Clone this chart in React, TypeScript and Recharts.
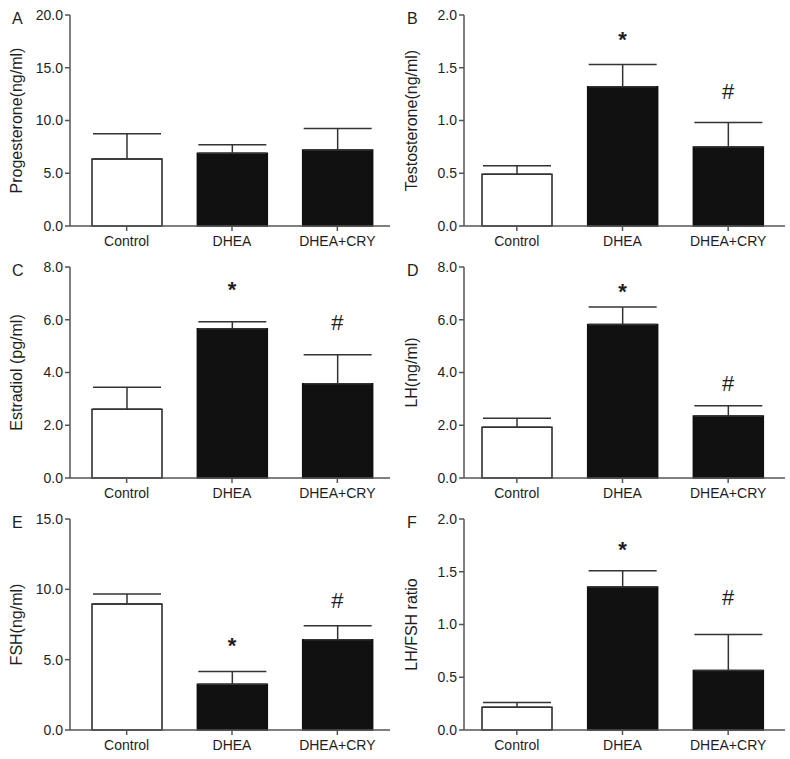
import { Bar, BarChart, Cell, ErrorBar, ReferenceDot, XAxis, YAxis } from "recharts";

const groups = ["Control", "DHEA", "DHEA+CRY"];

const progesterone = [6.35, 6.9, 7.2];
const progesteroneSem = [2.4, 0.8, 2.05];
const testosterone = [0.49, 1.32, 0.75];
const testosteroneSem = [0.08, 0.21, 0.23];
const estradiol = [2.61, 5.66, 3.57];
const estradiolSem = [0.83, 0.26, 1.1];
const lh = [1.92, 5.82, 2.35];
const lhSem = [0.35, 0.66, 0.39];
const fsh = [8.95, 3.25, 6.41];
const fshSem = [0.71, 0.9, 1.01];
const ratio = [0.215, 1.355, 0.563];
const ratioSem = [0.045, 0.155, 0.342];

// significance marks and the height (axis units) where each one sits
const noMarks = ["", "", ""];
const sigMarks = ["", "*", "#"];
const noMarkY = [0, 0, 0];
const testosteroneMarkY = [0, 1.79, 1.28];
const estradiolMarkY = [0, 7.25, 5.93];
const lhMarkY = [0, 7.18, 3.61];
const fshMarkY = [0, 6.19, 9.25];
const ratioMarkY = [0, 1.73, 1.26];

const ticks20 = [0, 5, 10, 15, 20];
const ticks15 = [0, 5, 10, 15];
const ticks8 = [0, 2, 4, 6, 8];
const ticks2 = [0, 0.5, 1, 1.5, 2];

const FONT = "'Liberation Sans', Arial, sans-serif";
const AXIS = "#555";
const INK = "#1e1e1e";

type PanelProps = {
  letter: string;
  label: string;
  values: number[];
  sem: number[];
  marks: string[];
  markY: number[];
  ticks: number[];
  left: number;
  top: number;
  yWidth: number;
  pad: { left: number; right: number };
};

function YLabel(props: any) {
  const vb = props.viewBox || {};
  const cx = (vb.x ?? 0) + 22;
  const cy = (vb.y ?? 15) + (vb.height ?? 211) / 2;
  return (
    <text
      x={cx}
      y={cy}
      transform={`rotate(-90, ${cx}, ${cy})`}
      textAnchor="middle"
      fontSize={16}
      fontFamily={FONT}
      fill={INK}
    >
      {props.value}
    </text>
  );
}

function markLabel(mark: string) {
  return (props: any) => {
    const vb = props.viewBox || {};
    const cx = (vb.x ?? 0) + (vb.width ?? 0) / 2;
    const cy = (vb.y ?? 0) + (vb.height ?? 0) / 2;
    // shift baseline so the glyph is centred on the point
    const shift = mark === "*" ? 10 : 8;
    return (
      <text
        x={cx}
        y={cy + shift}
        textAnchor="middle"
        fontSize={22}
        fontWeight={mark === "*" ? "bold" : "normal"}
        fontFamily={FONT}
        fill={INK}
      >
        {mark}
      </text>
    );
  };
}

function Panel({ letter, label, values, sem, marks, markY, ticks, left, top, yWidth, pad }: PanelProps) {
  const data = groups.map((g, i) => ({
    group: g,
    value: values[i],
    err: [0, sem[i]],
  }));
  const max = ticks[ticks.length - 1];
  return (
    <div style={{ position: "absolute", left, top, width: 395, height: 251 }}>
      <BarChart
        width={395}
        height={251}
        data={data}
        margin={{ top: 15, right: 5, left: 0, bottom: 0 }}
        barSize={70}
      >
        <XAxis
          dataKey="group"
          height={25}
          padding={pad}
          stroke={AXIS}
          strokeWidth={1.5}
          tickSize={5}
          tickMargin={5}
          tick={{ fill: INK, fontSize: 14, fontFamily: FONT }}
        />
        <YAxis
          width={yWidth}
          domain={[0, max]}
          ticks={ticks}
          interval={0}
          stroke={AXIS}
          strokeWidth={1.5}
          tickSize={5}
          tickFormatter={(v: number) => v.toFixed(1)}
          tick={{ fill: INK, fontSize: 14, fontFamily: FONT }}
          label={<YLabel value={label} />}
        />
        <Bar dataKey="value" isAnimationActive={false}>
          {data.map((d, i) => (
            <Cell
              key={d.group}
              fill={i === 0 ? "#fff" : "#111"}
              stroke={i === 0 ? "#222" : "#111"}
              strokeWidth={1.5}
            />
          ))}
          <ErrorBar dataKey="err" width={34} stroke="#333" strokeWidth={1.5} isAnimationActive={false} />
        </Bar>
        {data.map((d, i) =>
          marks[i] ? (
            <ReferenceDot
              key={d.group}
              x={d.group}
              y={markY[i]}
              r={0}
              fill="none"
              stroke="none"
              label={markLabel(marks[i])}
            />
          ) : null
        )}
      </BarChart>
      <div
        style={{
          position: "absolute",
          left: 12,
          top: 11,
          fontFamily: FONT,
          fontSize: 16,
          lineHeight: "16px",
          color: INK,
        }}
      >
        {letter}
      </div>
    </div>
  );
}

const leftPad = { left: 4, right: 0 };
const rightPad = { left: 0, right: 4 };

export default function App() {
  return (
    <div style={{ position: "absolute", left: 0, top: 0, width: 790, height: 759, background: "#fff" }}>
      <Panel letter="A" label="Progesterone(ng/ml)" values={progesterone} sem={progesteroneSem} marks={noMarks} markY={noMarkY} ticks={ticks20} left={0} top={0} yWidth={70} pad={leftPad} />
      <Panel letter="B" label="Testosterone(ng/ml)" values={testosterone} sem={testosteroneSem} marks={sigMarks} markY={testosteroneMarkY} ticks={ticks2} left={395} top={0} yWidth={69} pad={rightPad} />
      <Panel letter="C" label="Estradiol (pg/ml)" values={estradiol} sem={estradiolSem} marks={sigMarks} markY={estradiolMarkY} ticks={ticks8} left={0} top={252} yWidth={70} pad={leftPad} />
      <Panel letter="D" label="LH(ng/ml)" values={lh} sem={lhSem} marks={sigMarks} markY={lhMarkY} ticks={ticks8} left={395} top={252} yWidth={69} pad={rightPad} />
      <Panel letter="E" label="FSH(ng/ml)" values={fsh} sem={fshSem} marks={sigMarks} markY={fshMarkY} ticks={ticks15} left={0} top={504} yWidth={70} pad={leftPad} />
      <Panel letter="F" label="LH/FSH ratio" values={ratio} sem={ratioSem} marks={sigMarks} markY={ratioMarkY} ticks={ticks2} left={395} top={504} yWidth={69} pad={rightPad} />
    </div>
  );
}
